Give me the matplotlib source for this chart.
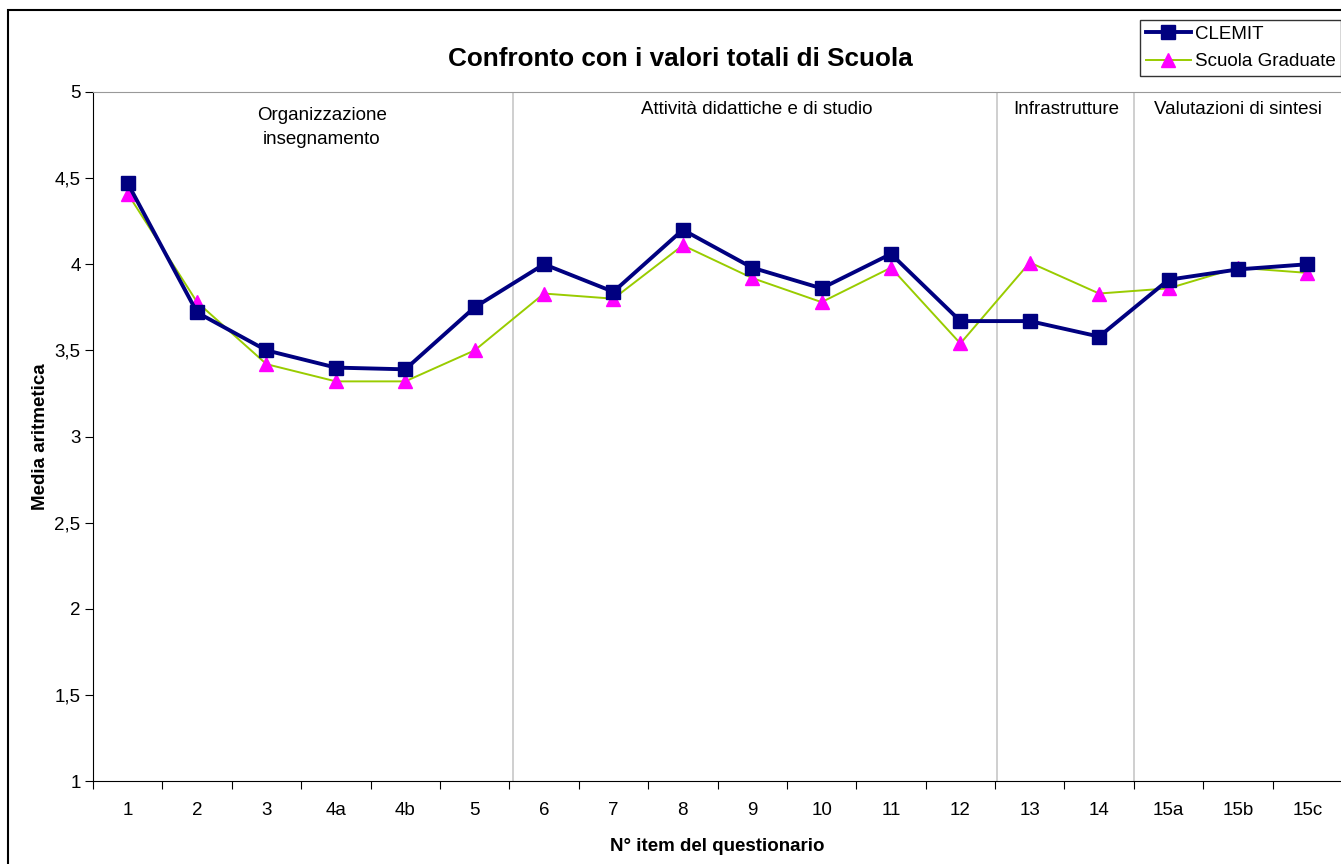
import matplotlib
matplotlib.use("Agg")
import matplotlib.pyplot as plt
from matplotlib.patches import Rectangle
import numpy as np

plt.rcParams["font.family"] = ["Liberation Sans", "DejaVu Sans"]

items = ["1", "2", "3", "4a", "4b", "5", "6", "7", "8", "9", "10", "11",
         "12", "13", "14", "15a", "15b", "15c"]
clemit = [4.47, 3.72, 3.50, 3.40, 3.39, 3.75, 4.00, 3.84, 4.20, 3.98, 3.86, 4.06,
          3.67, 3.67, 3.58, 3.91, 3.97, 4.00]
scuola = [4.41, 3.78, 3.42, 3.32, 3.32, 3.50, 3.83, 3.80, 4.11, 3.92, 3.78, 3.98,
          3.54, 4.01, 3.83, 3.86, 3.98, 3.95]

# section boundaries (in category units) and section titles
separators = [6.06, 13.03, 15.0]
sections = ["Attività didattiche e di studio", "Infrastrutture", "Valutazioni di sintesi"]
section_x = [9.57, 14.03, 16.5]

fig = plt.figure(figsize=(13.41, 8.64), dpi=100)
ax = fig.add_axes([93 / 1341, 83 / 864, 1249 / 1341, 689 / 864])

x = np.arange(len(items)) + 0.5
ax.plot(x, scuola, color="#99CC00", lw=1.4, marker="^", ms=10,
        mfc="#FF00FF", mec="#FF00FF", label="Scuola Graduate", zorder=3)
ax.plot(x, clemit, color="#000080", lw=2.8, marker="s", ms=10,
        mfc="#000080", mec="#000080", label="CLEMIT", zorder=4)

for s in separators:
    ax.axvline(s, color="#cccccc", lw=1.3, zorder=1)

ax.text(3.3, 4.795, "Organizzazione\ninsegnamento", ha="center",
        va="center", fontsize=13.5, linespacing=1.55)
for sx, txt in zip(section_x, sections):
    ax.text(sx, 4.90, txt, ha="center", va="center", fontsize=13.5)

ax.set_xlim(0, len(items))
ax.set_ylim(1, 5)
ax.set_xticks(np.arange(len(items) + 1))
ax.set_xticklabels([])
ax.set_xticks(x, minor=True)
ax.set_xticklabels(items, minor=True, fontsize=13.5)
ax.tick_params(axis="x", which="minor", length=0, pad=15)
ax.tick_params(axis="x", which="major", length=6, direction="out")
ax.set_yticks(np.arange(1, 5.01, 0.5))
ax.set_yticklabels([f"{v:g}".replace(".", ",") for v in np.arange(1, 5.01, 0.5)],
                   fontsize=13.5)
ax.tick_params(axis="y", length=6, direction="out", pad=3)

ax.spines["top"].set_color("#999999")
ax.spines["right"].set_color("#999999")

fig.text(680 / 1341, 1 - 59 / 864, "Confronto con i valori totali di Scuola",
         fontsize=18.8, fontweight="bold", ha="center", va="center")
ax.set_xlabel("N° item del questionario", fontsize=13.5, fontweight="bold",
              labelpad=14)
ax.set_ylabel("Media aritmetica", fontsize=13.5, fontweight="bold", labelpad=4)

handles, labels = ax.get_legend_handles_labels()
leg = fig.legend(handles[::-1], labels[::-1], loc="upper right",
                 bbox_to_anchor=(1.0, 1 - 20 / 864), fontsize=13.5, frameon=True,
                 fancybox=False, edgecolor="black", handlelength=2.4,
                 borderpad=0.3, labelspacing=0.55, handletextpad=0.2,
                 borderaxespad=0.0)
leg._legend_box.align = "left"
leg.get_frame().set_linewidth(1.0)

fig.patches.append(Rectangle((8 / 1341, -0.1), 1.2, 0.1 + 854 / 864,
                             transform=fig.transFigure, fill=False,
                             edgecolor="black", lw=1.5))

fig.savefig("out.png", dpi=100)
